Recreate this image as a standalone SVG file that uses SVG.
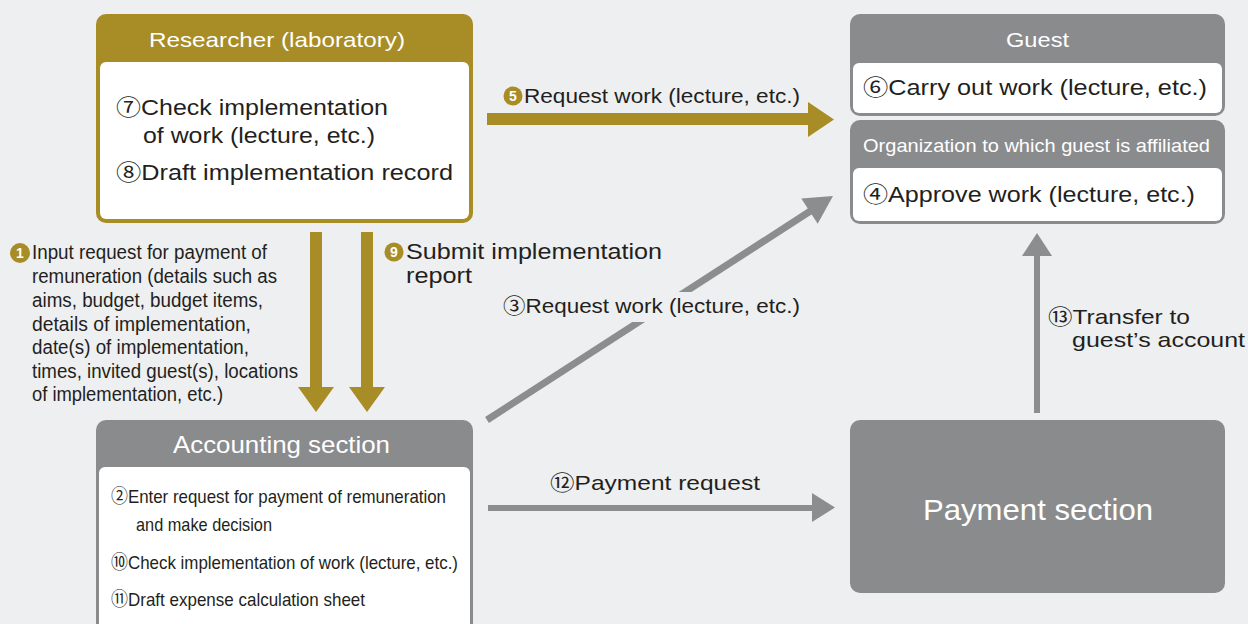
<svg xmlns="http://www.w3.org/2000/svg" width="1248" height="624" viewBox="0 0 1248 624">
<style>
.t{font-family:"Liberation Sans","Noto Sans CJK JP","DejaVu Sans",sans-serif;fill:#231f20}
.w{font-family:"Liberation Sans","Noto Sans CJK JP","DejaVu Sans",sans-serif;fill:#ffffff}
.num{font-family:"Liberation Sans",sans-serif;fill:#ffffff;font-size:14px;font-weight:bold;text-anchor:middle}
.gold{fill:#a88c26}
.gray{fill:#8a8b8d}
.body{fill:#ffffff}
.arr{fill:#8c8d8f}
.garr{fill:#a88c26}
</style>
<rect x="0" y="0" width="1248" height="624" fill="#eeeff1"/>

<g id="connectors">
  <rect class="garr" x="310" y="232" width="12" height="157"/>
  <polygon class="garr" points="298,387 334,387 316,412"/>
  <rect class="garr" x="361" y="232" width="12" height="157"/>
  <polygon class="garr" points="349,387 385,387 367,412"/>
  <rect class="garr" x="487" y="113" width="323" height="12"/>
  <polygon class="garr" points="808,102 808,137 834,119.5"/>
  <line x1="487" y1="420" x2="812" y2="210" stroke="#8c8d8f" stroke-width="7"/>
  <polygon class="arr" points="833,196 817.7,223.8 801.3,198.6"/>
  <rect x="500" y="292" width="305" height="30" fill="#eeeff1"/>
  <rect class="arr" x="488" y="505" width="326" height="6"/>
  <polygon class="arr" points="812,493 812,522 835,507.5"/>
  <rect class="arr" x="1034" y="254" width="6" height="159"/>
  <polygon class="arr" points="1022,256 1052,256 1037,233"/>

  <g id="label-1">
    <circle class="gold" cx="20" cy="253" r="10"/>
    <text class="num" x="20" y="258">1</text>
    <text class="t" x="32" y="259" font-size="20" textLength="235" lengthAdjust="spacingAndGlyphs">Input request for payment of</text>
    <text class="t" x="32" y="283" font-size="20" textLength="245" lengthAdjust="spacingAndGlyphs">remuneration (details such as</text>
    <text class="t" x="32" y="307" font-size="20" textLength="231" lengthAdjust="spacingAndGlyphs">aims, budget, budget items,</text>
    <text class="t" x="32" y="331" font-size="20" textLength="219" lengthAdjust="spacingAndGlyphs">details of implementation,</text>
    <text class="t" x="32" y="354" font-size="20" textLength="217" lengthAdjust="spacingAndGlyphs">date(s) of implementation,</text>
    <text class="t" x="32" y="378" font-size="20" textLength="266" lengthAdjust="spacingAndGlyphs">times, invited guest(s), locations</text>
    <text class="t" x="32" y="401" font-size="20" textLength="191" lengthAdjust="spacingAndGlyphs">of implementation, etc.)</text>
  </g>
  <g id="label-9">
    <circle class="gold" cx="394" cy="252" r="9.5"/>
    <text class="num" x="394" y="257">9</text>
    <text class="t" x="406" y="259" font-size="22" textLength="256" lengthAdjust="spacingAndGlyphs">Submit implementation</text>
    <text class="t" x="406" y="283" font-size="22" textLength="66" lengthAdjust="spacingAndGlyphs">report</text>
  </g>
  <g id="label-5">
    <circle class="gold" cx="513" cy="96" r="9.5"/>
    <text class="num" x="513" y="101">5</text>
    <text class="t" x="524" y="103" font-size="21" textLength="276" lengthAdjust="spacingAndGlyphs">Request work (lecture, etc.)</text>
  </g>
  <text id="label-3" class="t" x="503" y="313" font-size="21" textLength="297" lengthAdjust="spacingAndGlyphs">③Request work (lecture, etc.)</text>
  <text id="label-12" class="t" x="550" y="490" font-size="21" textLength="210" lengthAdjust="spacingAndGlyphs">⑫Payment request</text>
  <g id="label-13">
    <text class="t" x="1048" y="324" font-size="21" textLength="142" lengthAdjust="spacingAndGlyphs">⑬Transfer to</text>
    <text class="t" x="1072" y="347" font-size="21" textLength="173" lengthAdjust="spacingAndGlyphs">guest’s account</text>
  </g>
</g>

<g id="researcher">
  <rect class="gold" x="96" y="14" width="377" height="209" rx="10"/>
  <rect class="body" x="100" y="62" width="369" height="157" rx="6"/>
  <text class="w" x="149" y="47" font-size="21" textLength="256" lengthAdjust="spacingAndGlyphs">Researcher (laboratory)</text>
  <text class="t" x="116" y="115" font-size="22" textLength="272" lengthAdjust="spacingAndGlyphs">⑦Check implementation</text>
  <text class="t" x="143" y="143" font-size="22" textLength="232" lengthAdjust="spacingAndGlyphs">of work (lecture, etc.)</text>
  <text class="t" x="116" y="180" font-size="22" textLength="337" lengthAdjust="spacingAndGlyphs">⑧Draft implementation record</text>
</g>

<g id="guest">
  <rect class="gray" x="850" y="14" width="375" height="102" rx="10"/>
  <rect class="body" x="853" y="63" width="369" height="50" rx="6"/>
  <text class="w" x="1006" y="47" font-size="21" textLength="63" lengthAdjust="spacingAndGlyphs">Guest</text>
  <text class="t" x="863" y="95" font-size="22" textLength="344" lengthAdjust="spacingAndGlyphs">⑥Carry out work (lecture, etc.)</text>
</g>

<g id="organization">
  <rect class="gray" x="850" y="120" width="375" height="104" rx="10"/>
  <rect class="body" x="853" y="168" width="369" height="53" rx="6"/>
  <text class="w" x="863" y="152" font-size="19" textLength="347" lengthAdjust="spacingAndGlyphs">Organization to which guest is affiliated</text>
  <text class="t" x="863" y="202" font-size="22" textLength="332" lengthAdjust="spacingAndGlyphs">④Approve work (lecture, etc.)</text>
</g>

<g id="accounting">
  <rect class="gray" x="96" y="420" width="377" height="220" rx="10"/>
  <rect class="body" x="99" y="467" width="371" height="170" rx="6"/>
  <text class="w" x="173" y="453" font-size="24" textLength="217" lengthAdjust="spacingAndGlyphs">Accounting section</text>
  <text class="t" x="111" y="503" font-size="19" textLength="335" lengthAdjust="spacingAndGlyphs">②Enter request for payment of remuneration</text>
  <text class="t" x="136" y="531" font-size="19" textLength="136" lengthAdjust="spacingAndGlyphs">and make decision</text>
  <text class="t" x="111" y="569" font-size="19" textLength="347" lengthAdjust="spacingAndGlyphs">⑩Check implementation of work (lecture, etc.)</text>
  <text class="t" x="111" y="606" font-size="19" textLength="254" lengthAdjust="spacingAndGlyphs">⑪Draft expense calculation sheet</text>
</g>

<g id="payment">
  <rect class="gray" x="850" y="420" width="375" height="173" rx="10"/>
  <text class="w" x="923" y="520" font-size="30" textLength="230" lengthAdjust="spacingAndGlyphs">Payment section</text>
</g>
</svg>
